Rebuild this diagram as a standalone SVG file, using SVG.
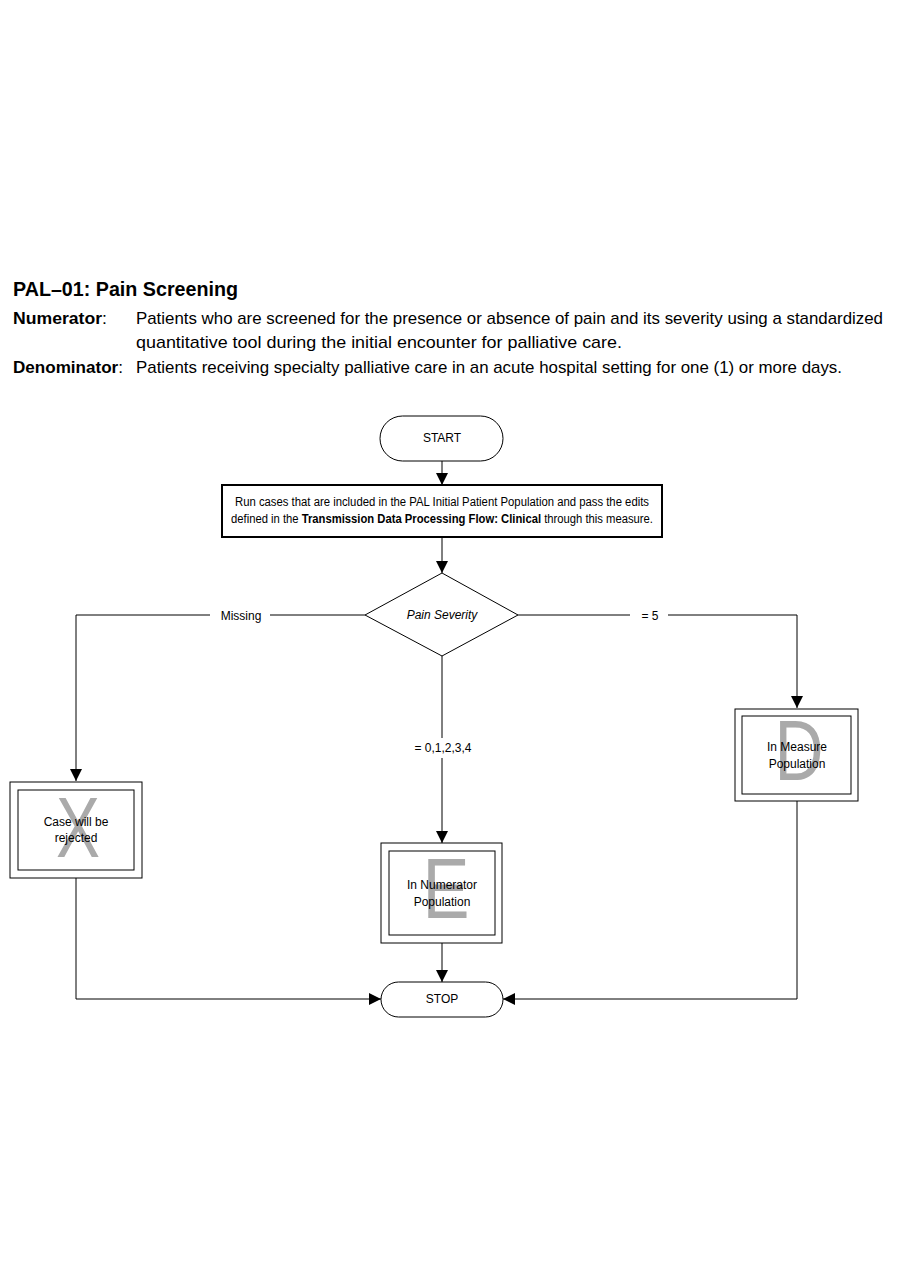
<svg xmlns="http://www.w3.org/2000/svg" width="900" height="1286" viewBox="0 0 900 1286">
<style>
.t{font-family:"Liberation Sans",Arial,sans-serif;fill:#000}
.hd{font-size:17px}
.sm{font-size:12px}
.big{font-family:"Liberation Sans",Arial,sans-serif;font-size:86px;fill:#aaaaaa}
.sh{fill:#fff;stroke:#000;stroke-width:1}
.ln{fill:none;stroke:#000;stroke-width:1}
</style>
<defs>
<marker id="ah" markerWidth="12" markerHeight="12" viewBox="0 0 12 12" refX="12" refY="6" orient="auto" markerUnits="userSpaceOnUse">
<path d="M0,0 L12,6 L0,12 Z" fill="#000"/>
</marker>
</defs>
<rect width="900" height="1286" fill="#fff"/>
<g id="header">
<text class="t" x="13" y="296" font-size="20" font-weight="bold" textLength="225" lengthAdjust="spacingAndGlyphs">PAL–01: Pain Screening</text>
<text class="t hd" x="13" y="324" font-weight="bold" textLength="94" lengthAdjust="spacingAndGlyphs">Numerator<tspan font-weight="normal">:</tspan></text>
<text class="t hd" x="136" y="324" textLength="747" lengthAdjust="spacingAndGlyphs">Patients who are screened for the presence or absence of pain and its severity using a standardized</text>
<text class="t hd" x="136" y="348" textLength="486" lengthAdjust="spacingAndGlyphs">quantitative tool during the initial encounter for palliative care.</text>
<text class="t hd" x="13" y="373" font-weight="bold" textLength="110" lengthAdjust="spacingAndGlyphs">Denominator<tspan font-weight="normal">:</tspan></text>
<text class="t hd" x="136" y="373" textLength="706" lengthAdjust="spacingAndGlyphs">Patients receiving specialty palliative care in an acute hospital setting for one (1) or more days.</text>
</g>
<g id="connectors">
<line class="ln" x1="442" y1="461" x2="442" y2="485" marker-end="url(#ah)"/>
<line class="ln" x1="442" y1="537" x2="442" y2="573" marker-end="url(#ah)"/>
<polyline class="ln" points="365,615 270,615"/>
<polyline class="ln" points="210,615 76,615 76,781" marker-end="url(#ah)"/>
<text class="t sm" x="241" y="620" text-anchor="middle">Missing</text>
<polyline class="ln" points="518,615 630,615"/>
<polyline class="ln" points="668,615 797,615 797,708" marker-end="url(#ah)"/>
<text class="t sm" x="650" y="620" text-anchor="middle">= 5</text>
<line class="ln" x1="442" y1="656" x2="442" y2="738"/>
<line class="ln" x1="442" y1="758" x2="442" y2="843" marker-end="url(#ah)"/>
<text class="t sm" x="443" y="752" text-anchor="middle">= 0,1,2,3,4</text>
<line class="ln" x1="442" y1="943" x2="442" y2="982" marker-end="url(#ah)"/>
<polyline class="ln" points="76,878 76,999 381,999" marker-end="url(#ah)"/>
<polyline class="ln" points="797,801 797,999 503,999" marker-end="url(#ah)"/>
</g>
<g id="start">
<rect class="sh" x="380" y="416" width="123" height="45" rx="22.5"/>
<text class="t sm" x="442" y="442" text-anchor="middle">START</text>
</g>
<g id="process">
<rect x="222" y="485" width="440" height="52" fill="#fff" stroke="#000" stroke-width="2"/>
<text class="t sm" x="442" y="506" text-anchor="middle" textLength="414" lengthAdjust="spacingAndGlyphs">Run cases that are included in the PAL Initial Patient Population and pass the edits</text>
<text class="t sm" x="442" y="523" text-anchor="middle" textLength="422" lengthAdjust="spacingAndGlyphs">defined in the <tspan font-weight="bold">Transmission Data Processing Flow: Clinical</tspan> through this measure.</text>
</g>
<g id="decision">
<polygon class="sh" points="442,573 518,615 442,656 365,615"/>
<text class="t sm" x="442" y="619" text-anchor="middle" font-style="italic">Pain Severity</text>
</g>
<g id="rejected">
<rect class="sh" x="10" y="782" width="132" height="96"/>
<rect class="sh" x="18" y="790" width="116" height="80"/>
<text class="big" x="78" y="857" text-anchor="middle" textLength="44" lengthAdjust="spacingAndGlyphs">X</text>
<text class="t sm" x="76" y="826" text-anchor="middle">Case will be</text>
<text class="t sm" x="76" y="842" text-anchor="middle">rejected</text>
</g>
<g id="numerator">
<rect class="sh" x="381" y="843" width="121" height="100"/>
<rect class="sh" x="389" y="851" width="106" height="84"/>
<text class="big" x="446" y="918" text-anchor="middle" textLength="47" lengthAdjust="spacingAndGlyphs">E</text>
<text class="t sm" x="442" y="889" text-anchor="middle">In Numerator</text>
<text class="t sm" x="442" y="906" text-anchor="middle">Population</text>
</g>
<g id="measure">
<rect class="sh" x="735" y="709" width="123" height="92"/>
<rect class="sh" x="742" y="716" width="109" height="78"/>
<text class="big" x="799" y="780" text-anchor="middle" textLength="49" lengthAdjust="spacingAndGlyphs">D</text>
<text class="t sm" x="797" y="751" text-anchor="middle">In Measure</text>
<text class="t sm" x="797" y="768" text-anchor="middle">Population</text>
</g>
<g id="stop">
<rect class="sh" x="381" y="982" width="122" height="35" rx="17.5"/>
<text class="t sm" x="442" y="1003" text-anchor="middle">STOP</text>
</g>
</svg>
